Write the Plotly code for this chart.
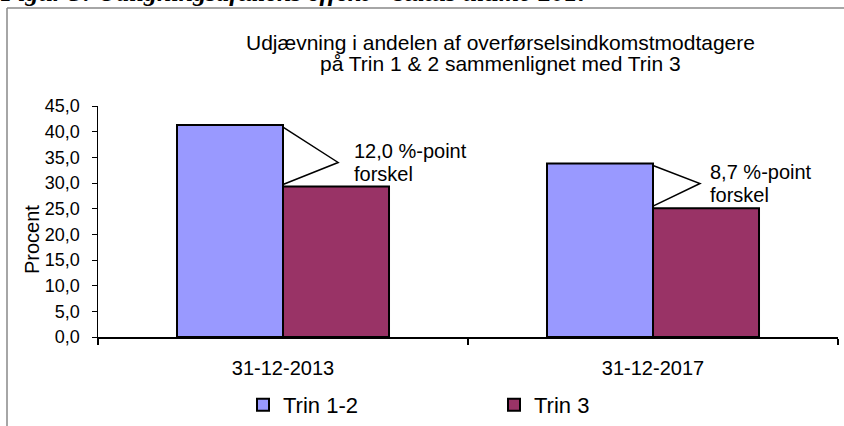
import plotly.graph_objects as go

# ---- data ----
categories = ["31-12-2013", "31-12-2017"]
trin_1_2 = [41.3, 33.8]
trin_3 = [29.3, 25.1]
series_names = ["Trin 1-2", "Trin 3"]
y_ticks = [0, 5, 10, 15, 20, 25, 30, 35, 40, 45]
callout_tip_y = [34.0, 29.9]
title_lines = ["Udjævning i andelen af overførselsindkomstmodtagere",
               "på Trin 1 & 2 sammenlignet med Trin 3"]
caption = "Figur 3: Udligningsaftalens effekt – status ultimo 2017"

# ---- layout constants (pixels) ----
W, H = 844, 426
L, R, T, B = 98, 6, 106, 89
PW, PH = W - L - R, H - T - B
BARGAP = 0.427
FONT = "Liberation Sans, Arial, sans-serif"


def px(x):
    return (x - L) / PW


def py(y):
    return (H - B - y) / PH


x_idx = list(range(len(categories)))

fig = go.Figure()
fig.add_trace(go.Bar(x=x_idx, y=trin_1_2, name=series_names[0],
                     marker=dict(color="#9999FF", line=dict(color="black", width=2))))
fig.add_trace(go.Bar(x=x_idx, y=trin_3, name=series_names[1],
                     marker=dict(color="#993366", line=dict(color="black", width=2))))

tip_dx = [0.149, 0.127]
text_dx = [0.186, 0.149]
for i in x_idx:
    top = trin_1_2[i] - 0.4
    bot = trin_3[i] + 0.4
    tx = i + tip_dx[i]
    fig.add_shape(type="path", xref="x", yref="y",
                  path=f"M {i},{top} L {tx},{callout_tip_y[i]} L {i},{bot}",
                  line=dict(color="black", width=1.5), fillcolor="rgba(0,0,0,0)")
    diff = f"{trin_1_2[i] - trin_3[i]:.1f}".replace(".", ",")
    fig.add_annotation(x=i + text_dx[i], y=callout_tip_y[i] + 2.3, xref="x", yref="y",
                       text=f"{diff} %-point", showarrow=False, xanchor="left",
                       yanchor="middle", font=dict(size=20, color="black", family=FONT))
    fig.add_annotation(x=i + text_dx[i], y=callout_tip_y[i] - 2.2, xref="x", yref="y",
                       text="forskel", showarrow=False, xanchor="left",
                       yanchor="middle", font=dict(size=20, color="black", family=FONT))

# title lines
for txt, yy in zip(title_lines, [42, 64]):
    fig.add_annotation(x=px(500), y=py(yy), xref="paper", yref="paper", text=txt,
                       showarrow=False, xanchor="center", yanchor="middle",
                       font=dict(size=21, color="black", family=FONT))

# y axis title
fig.add_annotation(x=px(32), y=py(240), xref="paper", yref="paper", text="Procent",
                   textangle=-90, showarrow=False, xanchor="center", yanchor="middle",
                   font=dict(size=20, color="black", family=FONT))

# cut-off caption at the very top (partly outside the page, as in the reference)
fig.add_annotation(x=px(-2), y=py(9), xref="paper", yref="paper", text=f"<b><i>{caption}</i></b>",
                   showarrow=False, xanchor="left", yanchor="bottom",
                   font=dict(size=26, color="black", family="Liberation Serif, Times New Roman, serif"))

# outer frame (left and top)
fig.add_shape(type="line", xref="paper", yref="paper", x0=px(7), x1=px(7), y0=py(8), y1=py(H + 5),
              line=dict(color="#888888", width=1.5))
fig.add_shape(type="line", xref="paper", yref="paper", x0=px(7), x1=px(W + 5), y0=py(8), y1=py(8),
              line=dict(color="#888888", width=1.5))

fig.update_layout(
    width=W, height=H, autosize=False,
    margin=dict(l=L, r=R, t=T, b=B, pad=0, autoexpand=False),
    paper_bgcolor="white", plot_bgcolor="white",
    barmode="group", bargap=BARGAP, bargroupgap=0,
    separators=",.",
    font=dict(family=FONT, color="black"),
    showlegend=True,
    legend=dict(orientation="h", x=px(243), y=py(405), xanchor="left", yanchor="middle",
                font=dict(size=22, color="black", family=FONT),
                entrywidth=206, entrywidthmode="pixels", bgcolor="rgba(0,0,0,0)"),
)
fig.update_xaxes(range=[-0.5, 1.5], tickmode="array", tickvals=x_idx, ticktext=categories,
                 ticks="", showline=True, linecolor="black", linewidth=1.5,
                 showgrid=False, zeroline=False, fixedrange=True,
                 tickfont=dict(size=20, color="black", family=FONT), ticklabelstandoff=12,
                 minor=dict(tickvals=[-0.5, 0.5, 1.5], ticks="outside", ticklen=6,
                            tickcolor="black", tickwidth=1.5, showgrid=False))
fig.update_yaxes(range=[0, 45], tickmode="array", tickvals=y_ticks, tickformat=".1f",
                 ticks="outside", ticklen=5, tickcolor="black", tickwidth=1,
                 showline=True, linecolor="black", linewidth=1.5,
                 showgrid=False, zeroline=False, fixedrange=True,
                 tickfont=dict(size=18, color="black", family=FONT), ticklabelstandoff=8)

fig.write_html("out.html", config={"displayModeBar": False, "staticPlot": True},
               post_script="document.body.style.margin='0px';document.body.style.overflow='hidden';")
